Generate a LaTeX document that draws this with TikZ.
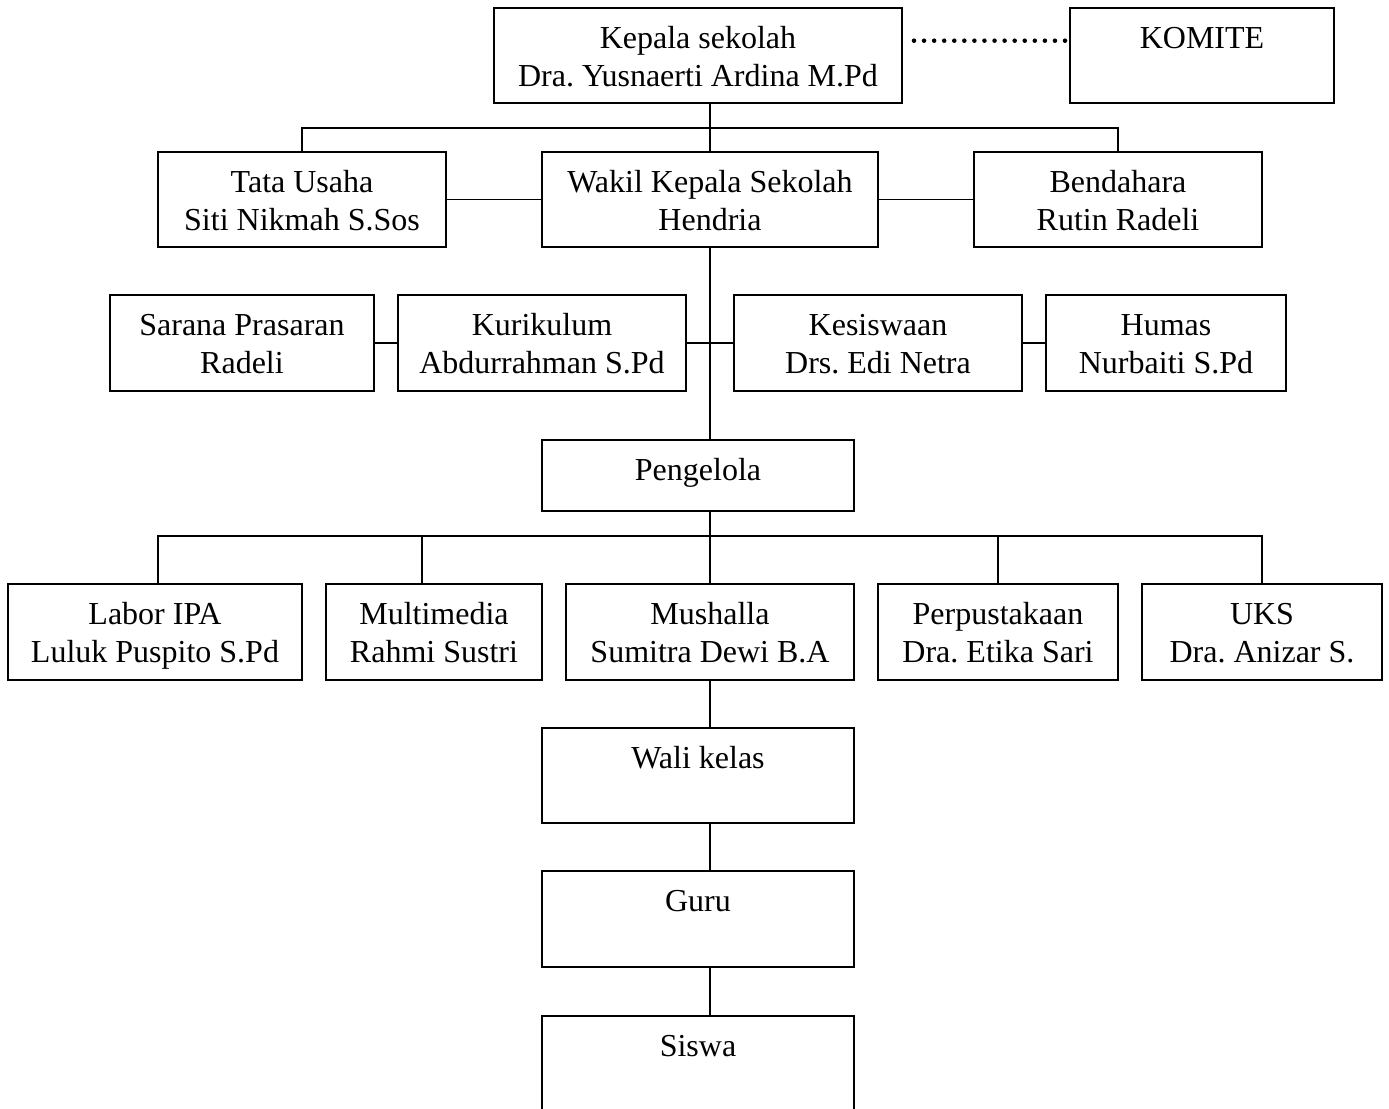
\documentclass[tikz,border=0pt]{standalone}
\usepackage{fontspec}
\setmainfont{Liberation Serif}
\begin{document}
\frenchspacing
\begin{tikzpicture}[x=0.75pt,y=-0.75pt,
  box/.style={draw,line width=1.3pt,inner sep=0pt,outer sep=0pt},
  txt/.style={inner sep=0pt,outer sep=0pt,align=center,anchor=north,
    font={\fontsize{24}{28.5}\selectfont\frenchspacing}},
  conn/.style={line width=1.3pt},
  dotline/.style={line width=3.4pt,line cap=round,dash pattern=on 0pt off 7.55pt}]
\newcommand\bx[6]{\node[box,minimum width={(#4-#2)*0.75pt},minimum height={(#5-#3)*0.75pt}] (#1) at ({(#2+#4)/2},{(#3+#5)/2}) {};
  \node[txt] (#1t) at ([yshift=-14*0.75pt]#1.north) {#6};}
\useasboundingbox (0,0) rectangle (1389,1109);
\clip (0,0) rectangle (1389,1109);
\bx{kep}{494}{8}{902}{103}{\strut Kepala sekolah\\\strut Dra. Yusnaerti Ardina M.Pd}
\bx{kom}{1070}{8}{1334}{103}{\strut KOMITE}
\bx{tu}{158}{152}{446}{247}{\strut Tata Usaha\\\strut Siti Nikmah S.Sos}
\bx{wak}{542}{152}{878}{247}{\strut Wakil Kepala Sekolah\\\strut Hendria}
\bx{ben}{974}{152}{1262}{247}{\strut Bendahara\\\strut Rutin Radeli}
\bx{sar}{110}{295}{374}{391}{\strut Sarana Prasaran\\\strut Radeli}
\bx{kur}{398}{295}{686}{391}{\strut Kurikulum\\\strut Abdurrahman S.Pd}
\bx{kes}{734}{295}{1022}{391}{\strut Kesiswaan\\\strut Drs. Edi Netra}
\bx{hum}{1046}{295}{1286}{391}{\strut Humas\\\strut Nurbaiti S.Pd}
\bx{pen}{542}{440}{854}{511}{\strut Pengelola}
\bx{lab}{8}{584}{302}{680}{\strut Labor IPA\\\strut Luluk Puspito S.Pd}
\bx{mul}{326}{584}{542}{680}{\strut Multimedia\\\strut Rahmi Sustri}
\bx{mus}{566}{584}{854}{680}{\strut Mushalla\\\strut Sumitra Dewi B.A}
\bx{per}{878}{584}{1118}{680}{\strut Perpustakaan\\\strut Dra. Etika Sari}
\bx{uks}{1142}{584}{1382}{680}{\strut UKS\\\strut Dra. Anizar S.}
\bx{wal}{542}{728}{854}{823}{\strut Wali kelas}
\bx{gur}{542}{871}{854}{967}{\strut Guru}
\bx{sis}{542}{1016}{854}{1111}{\strut Siswa}
% dotted link
\draw[dotline] ([xshift=12*0.75pt,yshift=-32.7*0.75pt]kep.north east) -- ([xshift=-5*0.75pt,yshift=-32.7*0.75pt]kom.north west);
% upper spine and bus
\draw[conn] (kep.south -| wak.north) -- (wak.north);
\draw[conn] (tu.north) -- ++(0,-24) -| (ben.north);
\draw[conn] (tu.east) -- (wak.west);
\draw[conn] (wak.east) -- (ben.west);
\draw[conn] (wak.south) -- (wak.south |- pen.north);
\draw[conn] (sar.east) -- (kur.west);
\draw[conn] (kur.east) -- (kes.west);
\draw[conn] (kes.east) -- (hum.west);
% lower bus
\coordinate (labd) at ([xshift=3*0.75pt]lab.north);
\coordinate (muld) at ([xshift=-12*0.75pt]mul.north);
\draw[conn] (pen.south -| mus.north) -- (mus.north);
\draw[conn] (labd) -- ++(0,-48) -| (uks.north);
\draw[conn] (muld) -- ++(0,-48);
\draw[conn] (per.north) -- ++(0,-48);
\draw[conn] (mus.south) -- (mus.south |- wal.north);
\draw[conn] (wal.south -| mus.south) -- (gur.north -| mus.south);
\draw[conn] (gur.south -| mus.south) -- (sis.north -| mus.south);
\end{tikzpicture}
\end{document}
